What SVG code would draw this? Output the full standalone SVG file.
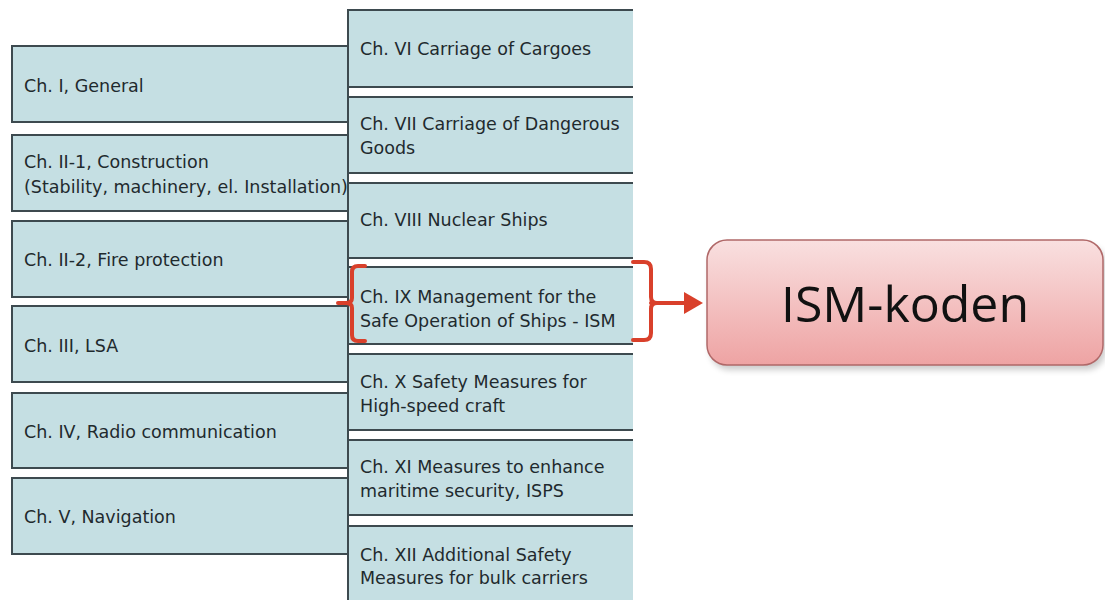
<svg xmlns="http://www.w3.org/2000/svg" width="1105" height="600" viewBox="0 0 1105 600">
<style>
.lb{fill:#c5dfe3;stroke:#3d4a4f;stroke-width:2}
.rf{fill:#c5dfe3;stroke:none}
.rl{fill:none;stroke:#3d4a4f;stroke-width:2}
.t{font-family:"DejaVu Sans",sans-serif;font-size:17.5px;fill:#1f2a2e}
.br{fill:none;stroke:#d9402b;stroke-width:4;stroke-linecap:round;stroke-linejoin:round}
.big{font-family:"Open Sans",sans-serif;font-size:50px;fill:#111}
</style>
<defs>
<linearGradient id="pk" x1="0" y1="0" x2="0" y2="1">
<stop offset="0" stop-color="#f9e0e0"/>
<stop offset="1" stop-color="#eea3a3"/>
</linearGradient>
<filter id="sh" x="-10%" y="-20%" width="120%" height="150%">
<feGaussianBlur stdDeviation="3"/>
</filter>
</defs>
<rect width="1105" height="600" fill="#ffffff"/>
<g id="ch1"><rect class="lb" x="12" y="46" width="336" height="76"/><text class="t" x="24" y="92">Ch. I, General</text></g>
<g id="ch2-1"><rect class="lb" x="12" y="135" width="336" height="76"/><text class="t" x="24" y="168">Ch. II-1, Construction</text><text class="t" x="24" y="193">(Stability, machinery, el. Installation)</text></g>
<g id="ch2-2"><rect class="lb" x="12" y="221" width="336" height="76"/><text class="t" x="24" y="266">Ch. II-2, Fire protection</text></g>
<g id="ch3"><rect class="lb" x="12" y="306" width="336" height="76"/><text class="t" x="24" y="352">Ch. III, LSA</text></g>
<g id="ch4"><rect class="lb" x="12" y="393" width="336" height="75"/><text class="t" x="24" y="438">Ch. IV, Radio communication</text></g>
<g id="ch5"><rect class="lb" x="12" y="478" width="336" height="76"/><text class="t" x="24" y="523">Ch. V, Navigation</text></g>
<g id="ch6"><rect class="rf" x="348" y="10" width="285" height="77"/><path class="rl" d="M633,10H348V87H633"/><text class="t" x="360" y="55">Ch. VI Carriage of Cargoes</text></g>
<g id="ch7"><rect class="rf" x="348" y="97" width="285" height="76"/><path class="rl" d="M633,97H348V173H633"/><text class="t" x="360" y="130">Ch. VII Carriage of Dangerous</text><text class="t" x="360" y="154">Goods</text></g>
<g id="ch8"><rect class="rf" x="348" y="183" width="285" height="75"/><path class="rl" d="M633,183H348V258H633"/><text class="t" x="360" y="226">Ch. VIII Nuclear Ships</text></g>
<g id="ch9"><rect class="rf" x="348" y="267" width="285" height="77"/><path class="rl" d="M633,267H348V344H633"/><text class="t" x="360" y="303">Ch. IX Management for the</text><text class="t" x="360" y="327">Safe Operation of Ships - ISM</text></g>
<g id="ch10"><rect class="rf" x="348" y="354" width="285" height="76"/><path class="rl" d="M633,354H348V430H633"/><text class="t" x="360" y="388">Ch. X Safety Measures for</text><text class="t" x="360" y="412">High-speed craft</text></g>
<g id="ch11"><rect class="rf" x="348" y="440" width="285" height="75"/><path class="rl" d="M633,440H348V515H633"/><text class="t" x="360" y="473">Ch. XI Measures to enhance</text><text class="t" x="360" y="497">maritime security, ISPS</text></g>
<g id="ch12"><rect class="rf" x="348" y="526" width="285" height="80"/><path class="rl" d="M633,526H348V606"/><text class="t" x="360" y="561">Ch. XII Additional Safety</text><text class="t" x="360" y="584">Measures for bulk carriers</text></g>
<g id="connectors">
<path class="br" d="M365,266 H358 Q352,266 352,272 V298 Q352,303 346,303 H338 M346,303 Q352,303 352,308 V335 Q352,341 358,341 H365"/>
<path class="br" d="M633,262 H644 Q651,262 651,269 V297 Q651,303 657,303 M657,303 Q651,303 651,309 V333 Q651,340 644,340 H633"/>
<path class="br" d="M651,303 H686"/>
<polygon points="684,292 703,303 684,314" fill="#d9402b"/>
</g>
<g id="ism">
<rect x="710" y="245" width="396" height="125" rx="20" fill="#000" opacity="0.2" filter="url(#sh)"/>
<rect x="707" y="240" width="396" height="125" rx="20" fill="url(#pk)" stroke="#b06868" stroke-width="1.5"/>
<text class="big" x="905" y="322" text-anchor="middle">ISM-koden</text>
</g>
</svg>
